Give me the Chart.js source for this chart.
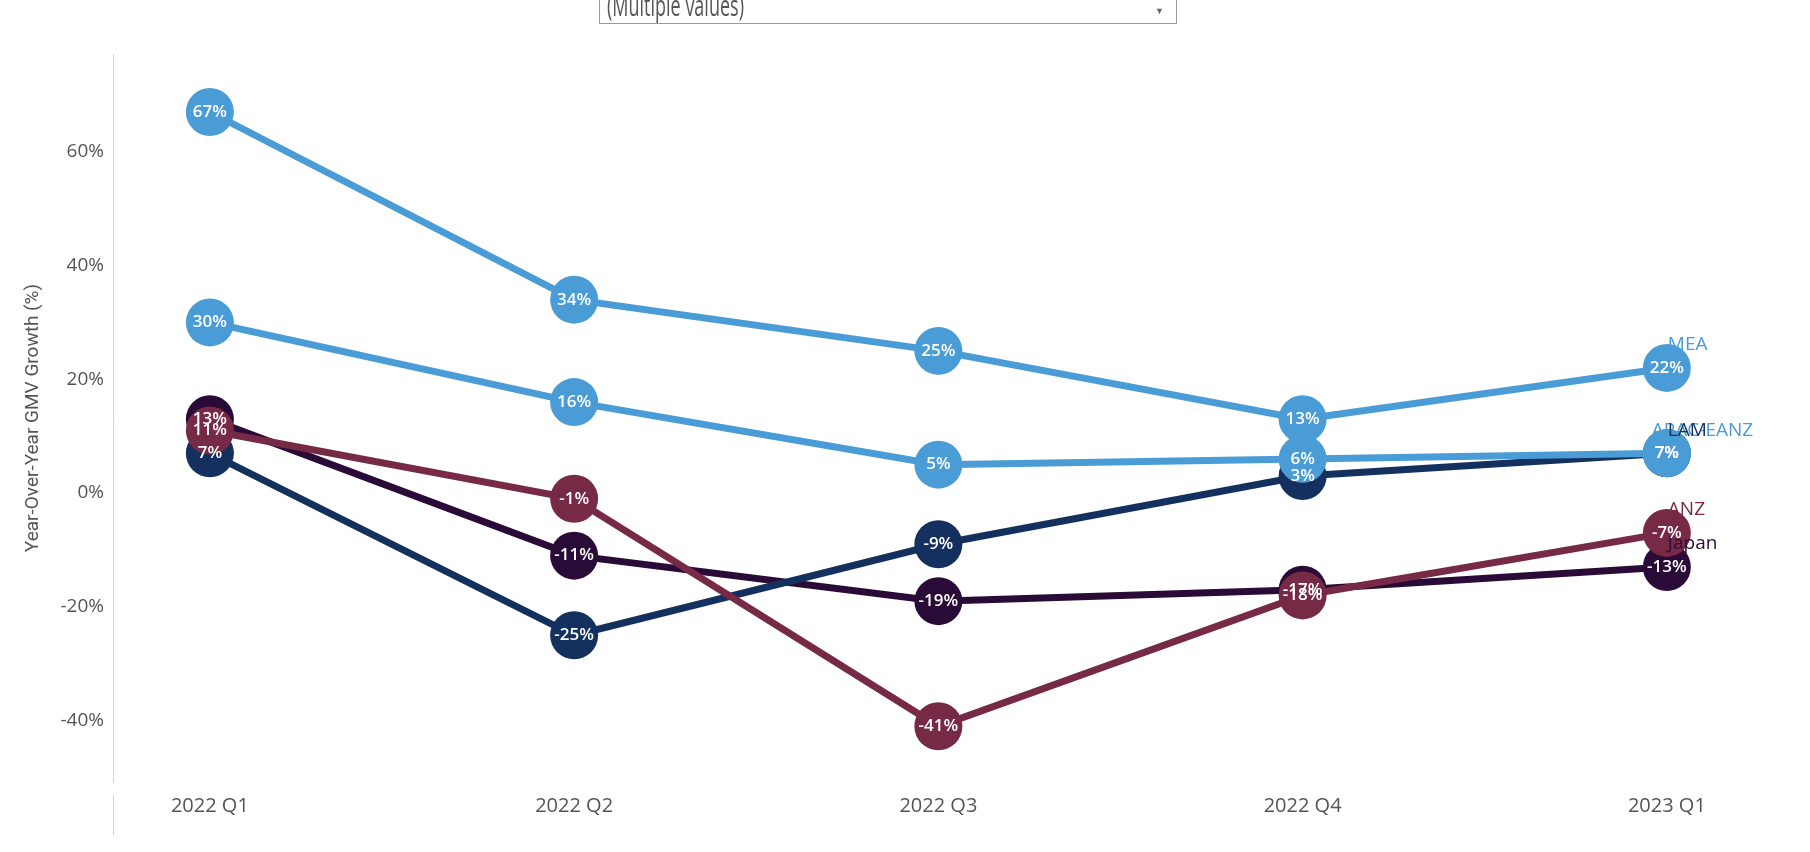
<!DOCTYPE html>
<html>
<head>
    <title>YoY GMV Growth by Region</title>
    <script src="https://cdn.jsdelivr.net/npm/chart.js"></script>
    <style>
        body { margin: 0; background: #fff; }
        .wrap { position: relative; width: 1810px; height: 852px; overflow: hidden; }
        /* filter dropdown, cut off at the top of the view */
        .filter {
            position: absolute; left: 599px; top: -10px; width: 578px; height: 34px;
            border: 1px solid #9a9a9a; border-top: none; box-sizing: border-box;
            font-family: "Open Sans", sans-serif; font-size: 18px; color: #555;
        }
        .filter .txt {
            position: absolute; left: 7px; bottom: 4px; line-height: 18px;
            transform: scaleY(1.6); transform-origin: bottom left;
        }
        .filter .arrow { position: absolute; right: 12px; top: 14px; font-size: 9px; color: #666; }
        .axis-tail { position: absolute; left: 113px; top: 795px; width: 1px; height: 40px; background: #d4d4d4; }
    </style>
</head>
<body>
<div class="wrap">
    <div class="filter"><span class="txt">(Multiple values)</span><span class="arrow">&#9660;</span></div>
    <div class="axis-tail"></div>
    <canvas id="growthChart" width="1810" height="852"></canvas>
</div>

<script>
    const quarters = ['2022 Q1', '2022 Q2', '2022 Q3', '2022 Q4', '2023 Q1'];
    const regions = ['MEA', 'APAC-EANZ', 'ANZ', 'LAM', 'Japan'];
    const meaGrowth = [67, 34, 25, 13, 22];
    const apacGrowth = [30, 16, 5, 6, 7];
    const anzGrowth = [11, -1, -41, -18, -7];
    const lamGrowth = [7, -25, -9, 3, 7];
    const japanGrowth = [13, -11, -19, -17, -13];
    const yTicks = [-40, -20, 0, 20, 40, 60];

    const colors = ['#4a9cd6', '#4a9cd6', '#772a46', '#14305f', '#2a0a36'];
    const series = [meaGrowth, apacGrowth, anzGrowth, lamGrowth, japanGrowth];

    // region name above the last point of each line
    const endLabels = {
        id: 'endLabels',
        afterDatasetsDraw(chart) {
            const ctx = chart.ctx;
            ctx.save();
            ctx.font = '500 19px "Open Sans", sans-serif';
            ctx.textAlign = 'left';
            ctx.textBaseline = 'middle';
            const drawOrder = [0, 1, 3, 2, 4];
            drawOrder.forEach(i => {
                const meta = chart.getDatasetMeta(i);
                const pt = meta.data[meta.data.length - 1];
                ctx.fillStyle = colors[i];
                const dx = i === 1 ? -15 : 1;
                ctx.fillText(regions[i], pt.x + dx, pt.y - 23);
            });
            ctx.restore();
        }
    };

    // percentage inside each circle
    const valueLabels = {
        id: 'valueLabels',
        afterDatasetsDraw(chart) {
            const ctx = chart.ctx;
            ctx.save();
            ctx.font = '600 17px "Open Sans", sans-serif';
            ctx.textAlign = 'center';
            ctx.textBaseline = 'middle';
            ctx.fillStyle = '#ffffff';
            chart.data.datasets.forEach((ds, i) => {
                chart.getDatasetMeta(i).data.forEach((pt, j) => {
                    ctx.fillText(series[i][j] + '%', pt.x, pt.y);
                });
            });
            ctx.restore();
        }
    };

    const ctx = document.getElementById('growthChart').getContext('2d');
    new Chart(ctx, {
        type: 'line',
        data: {
            datasets: series.map((vals, i) => ({
                label: regions[i],
                data: vals.map((v, j) => ({ x: j, y: v })),
                borderColor: colors[i],
                backgroundColor: colors[i],
                borderWidth: 7,
                pointRadius: 24,
                pointHoverRadius: 24,
                pointBorderWidth: 0,
                tension: 0
            }))
        },
        options: {
            responsive: false,
            animation: false,
            layout: { autoPadding: false, padding: { top: 54, right: 0, left: 0, bottom: 0 } },
            plugins: {
                legend: { display: false },
                tooltip: { enabled: false }
            },
            scales: {
                x: {
                    type: 'linear',
                    min: -0.266,
                    max: 4.393,
                    grid: { display: false, drawTicks: false },
                    border: { display: false },
                    afterBuildTicks: scale => { scale.ticks = quarters.map((q, i) => ({ value: i })); },
                    afterFit: scale => { scale.height = 70; },
                    ticks: {
                        padding: 12,
                        color: '#555',
                        font: { family: '"Open Sans", sans-serif', size: 20 },
                        callback: v => quarters[v]
                    }
                },
                y: {
                    min: -50.8,
                    max: 77.2,
                    grid: { display: false, drawTicks: false },
                    border: { display: true, color: '#d4d4d4', width: 1 },
                    afterBuildTicks: scale => { scale.ticks = yTicks.map(v => ({ value: v })); },
                    afterFit: scale => { scale.width = 113; },
                    ticks: {
                        padding: 9,
                        color: '#555',
                        font: { family: '"Open Sans", sans-serif', size: 19 },
                        callback: v => v + '%'
                    },
                    title: {
                        display: true,
                        text: 'Year-Over-Year GMV Growth (%)',
                        color: '#555',
                        padding: { top: 22 },
                        font: { family: '"Liberation Sans Narrow", Roboto, sans-serif', size: 19 }
                    }
                }
            }
        },
        plugins: [endLabels, valueLabels]
    });
</script>
</body>
</html>
